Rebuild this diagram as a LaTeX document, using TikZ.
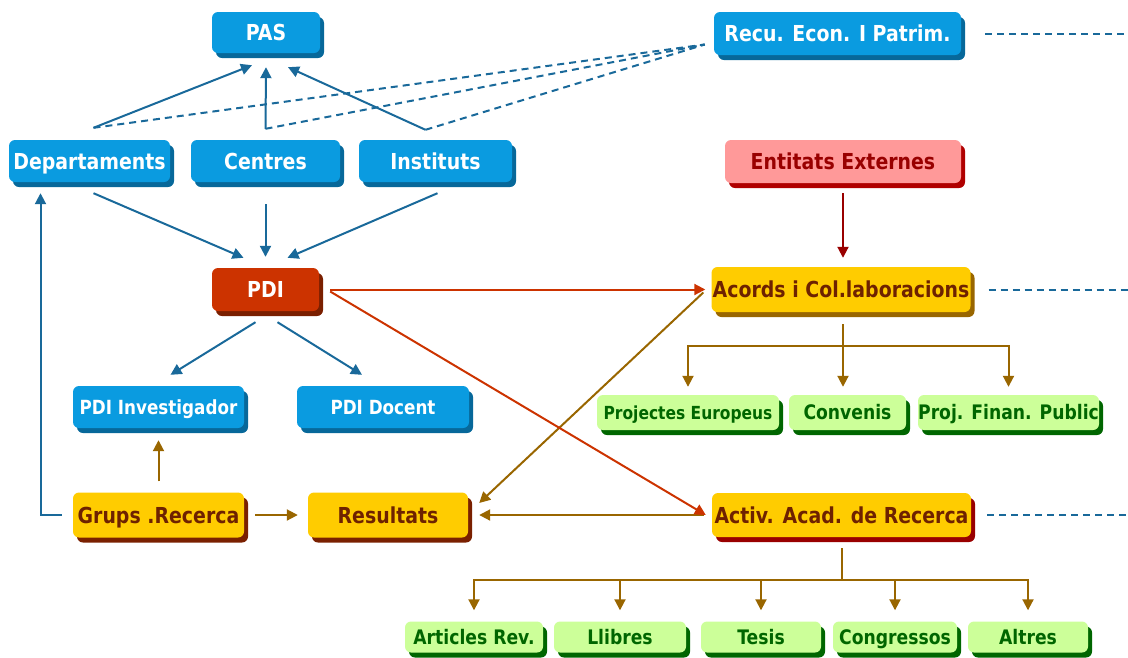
\documentclass[tikz,border=0pt]{standalone}
\usepackage{fontspec}
\setmainfont{DejaVu Sans}[FakeStretch=0.86]
\usetikzlibrary{arrows.meta,shadows}

\definecolor{boxblue}{HTML}{0A9BE0}
\definecolor{shadeblue}{HTML}{07689A}
\definecolor{lineblue}{HTML}{19699A}
\definecolor{boxred}{HTML}{CC3300}
\definecolor{shadered}{HTML}{7A1F00}
\definecolor{boxyellow}{HTML}{FFCC00}
\definecolor{textbrown}{HTML}{6E2200}
\definecolor{shadebrown}{HTML}{7A2000}
\definecolor{linebrown}{HTML}{996600}
\definecolor{darkred}{HTML}{990000}
\definecolor{boxpink}{HTML}{FF9999}
\definecolor{shadepink}{HTML}{B00000}
\definecolor{boxgreen}{HTML}{CCFF99}
\definecolor{darkgreen}{HTML}{006600}

\tikzset{
  unit/.style={rounded corners=6pt, inner sep=0pt, text depth=0pt,
    text height=16pt, font=\bfseries\fontsize{22}{26}\selectfont},
  shade/.style={drop shadow={shadow xshift=4pt, shadow yshift=-5pt,
    opacity=1, fill=#1}},
  bluebox/.style={unit, fill=boxblue, text=white, shade=shadeblue},
  pdibox/.style={unit, fill=boxred, text=white, shade=shadered},
  yellowbox/.style={unit, fill=boxyellow, text=textbrown, shade=#1},
  pinkbox/.style={unit, fill=boxpink, text=darkred, shade=shadepink},
  greenbox/.style={unit, fill=boxgreen, text=darkgreen, shade=darkgreen,
    text height=14.6pt, font=\bfseries\fontsize{20}{24}\selectfont},
  link/.style={line width=2pt, >={Triangle[length=11pt,width=11pt]}},
  blueline/.style={link, draw=lineblue},
  redline/.style={link, draw=boxred},
  brownline/.style={link, draw=linebrown},
  dashlink/.style={line width=2pt, draw=lineblue, dash pattern=on 7pt off 5pt}
}

\begin{document}
\begin{tikzpicture}[x=1pt,y=-1pt]
    \useasboundingbox (0,0) rectangle (1128,657);
    \coordinate (rightedge) at (1128,0);

    % Staff units (blue)
    \node[bluebox, minimum width=108pt, minimum height=41pt] (pas) at (266,32.5) {PAS};
    \node[bluebox, minimum width=247pt, minimum height=43pt] (recu) at (837.5,33.5) {Recu. Econ. I Patrim.};
    \node[bluebox, minimum width=161pt, minimum height=42pt] (dept) at (89.5,161) {Departaments};
    \node[bluebox, minimum width=149pt, minimum height=42pt] (centres) at (265.5,161) {Centres};
    \node[bluebox, minimum width=153pt, minimum height=42pt] (inst) at (435.5,161) {Instituts};
    \node[pinkbox, minimum width=236pt, minimum height=43pt] (ent) at (843,161.5) {Entitats Externes};

    % PDI and its two roles
    \node[pdibox, minimum width=107pt, minimum height=43pt] (pdi) at (265.5,289.5) {PDI};
    \node[bluebox, minimum width=171pt, minimum height=42pt, text height=14.2pt,
          font=\bfseries\fontsize{19.5}{23}\selectfont] (inv) at (158.5,407) {PDI Investigador};
    \node[bluebox, minimum width=172pt, minimum height=42pt, text height=14.2pt,
          font=\bfseries\fontsize{19.5}{23}\selectfont] (doc) at (383,407) {PDI Docent};

    % Research (yellow)
    \node[yellowbox=linebrown, minimum width=259pt, minimum height=45pt] (acords) at (841,289.5) {Acords i Col.laboracions};
    \node[yellowbox=shadebrown, minimum width=171pt, minimum height=45pt] (grups) at (158.5,515) {Grups .Recerca};
    \node[yellowbox=shadebrown, minimum width=160pt, minimum height=45pt] (res) at (388,515) {Resultats};
    \node[yellowbox=darkred, minimum width=259pt, minimum height=44pt] (activ) at (841.5,515) {Activ. Acad. de Recerca};

    % Kinds of agreements (green)
    \node[greenbox, minimum width=182pt, minimum height=35pt, text height=13.1pt,
          font=\bfseries\fontsize{18}{22}\selectfont] (proj) at (688,412.5) {Projectes Europeus};
    \node[greenbox, minimum width=117pt, minimum height=35pt] (conv) at (847.5,412.5) {Convenis};
    \node[greenbox, minimum width=181pt, minimum height=35pt] (finan) at (1008.5,412.5) {Proj. Finan. Public};

    % Kinds of activity (green)
    \node[greenbox, minimum width=138pt, minimum height=31pt] (arts) at (474,637) {Articles Rev.};
    \node[greenbox, minimum width=132pt, minimum height=31pt] (llib) at (620,637) {Llibres};
    \node[greenbox, minimum width=120pt, minimum height=31pt] (tesis) at (761,637) {Tesis};
    \node[greenbox, minimum width=124pt, minimum height=31pt] (congr) at (895,637) {Congressos};
    \node[greenbox, minimum width=120pt, minimum height=31pt] (altres) at (1028,637) {Altres};

    % Units up to PAS
    \draw[blueline,->] ([xshift=4pt,yshift=12pt]dept.north) -- ([xshift=-14pt,yshift=-12pt]pas.south);
    \draw[blueline,->] ([yshift=11pt]centres.north) -- ([yshift=-14pt]pas.south);
    \draw[blueline,->] ([xshift=-10pt,yshift=10pt]inst.north) -- ([xshift=22pt,yshift=-14pt]pas.south);

    % Units to Recu. Econ. (dashed)
    \draw[dashlink] ([xshift=4pt,yshift=12pt]dept.north) -- ([xshift=-9pt,yshift=-11pt]recu.west);
    \draw[dashlink] ([yshift=11pt]centres.north) -- ([xshift=-9pt,yshift=-11pt]recu.west);
    \draw[dashlink] ([xshift=-10pt,yshift=10pt]inst.north) -- ([xshift=-9pt,yshift=-11pt]recu.west);

    % Units down to PDI
    \draw[blueline,->] ([xshift=4pt,yshift=-11pt]dept.south) -- ([xshift=-22pt,yshift=10pt]pdi.north);
    \draw[blueline,->] ([yshift=-22pt]centres.south) -- ([yshift=11pt]pdi.north);
    \draw[blueline,->] ([xshift=2pt,yshift=-11pt]inst.south) -- ([xshift=22pt,yshift=10pt]pdi.north);

    % PDI to its roles
    \draw[blueline,->] ([xshift=-10pt,yshift=-11pt]pdi.south) -- ([xshift=12pt,yshift=11pt]inv.north);
    \draw[blueline,->] ([xshift=12pt,yshift=-11pt]pdi.south) -- ([xshift=-21pt,yshift=11pt]doc.north);

    % External bodies
    \draw[link,draw=darkred,->] ([yshift=-10pt]ent.south) -- ([yshift=9pt]ent.south |- acords.north);

    % Groups and results
    \draw[brownline,->] ([yshift=11pt]grups.north) -- ([yshift=-12pt]inv.south);
    \draw[brownline,->] ([xshift=11pt]grups.east) -- ([xshift=-10pt]res.west);
    \draw[blueline,->] ([xshift=-11pt]grups.west) -| ([xshift=-49pt,yshift=-11pt]dept.south);
    \draw[brownline,->] ([xshift=-8pt,yshift=-3pt]acords.west) -- ([xshift=11pt,yshift=12pt]res.east);
    \draw[brownline,->] ([xshift=-8pt]activ.west) -- ([xshift=11pt]res.east);

    % PDI to agreements and activity
    \draw[redline,->] ([xshift=11pt]pdi.east) -- ([xshift=-6pt]acords.west);
    \draw[redline,->] ([xshift=11pt,yshift=-2pt]pdi.east) -- ([xshift=-6pt]activ.west);

    % Agreements split
    \coordinate (acbus) at ([yshift=-34pt]acords.south -| ent.south);
    \draw[brownline] ([yshift=-12pt]acords.south -| ent.south) -- (acbus);
    \draw[brownline,->] (acbus) -| ([yshift=8pt]proj.north);
    \draw[brownline,->] (acbus) -- ([yshift=8pt]acbus |- conv.north);
    \draw[brownline,->] (acbus) -| ([yshift=8pt]finan.north);

    % Activity split
    \coordinate (acbus2) at ([yshift=-43pt]activ.south);
    \draw[brownline] ([yshift=-11pt]activ.south) -- (acbus2);
    \foreach \leaf in {arts,llib,tesis,congr,altres}
        \draw[brownline,->] (acbus2) -| ([yshift=11pt]\leaf.north);

    % Continuations to the right
    \draw[dashlink] ([xshift=24pt]recu.east) -- (recu.east -| rightedge);
    \draw[dashlink] ([xshift=18pt]acords.east) -- (acords.east -| rightedge);
    \draw[dashlink] ([xshift=16pt]activ.east) -- (activ.east -| rightedge);
\end{tikzpicture}
\end{document}
